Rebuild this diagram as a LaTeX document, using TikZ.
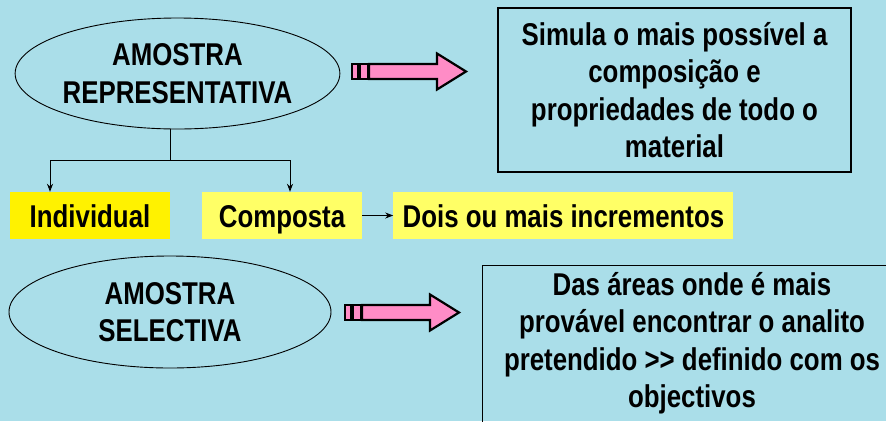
\documentclass[tikz,border=0pt]{standalone}
\usepackage{fontspec}
\setmainfont{Liberation Sans}[FakeStretch=0.82]
\usetikzlibrary{shapes.geometric, positioning, arrows.meta}
\definecolor{drops}{RGB}{170,222,233}
\definecolor{pinkarrow}{RGB}{255,140,198}
\definecolor{paleyellow}{RGB}{255,255,102}

\begin{document}
\begin{tikzpicture}[x=1pt,y=1pt,
    >={Stealth[length=8pt,width=6pt]},
    txt/.style={font=\fontsize{31.5}{37.5}\selectfont\bfseries, align=center, inner sep=0pt},
    oval/.style={txt, ellipse, draw, line width=0.9pt},
    infobox/.style={txt, draw, line width=1.2pt},
    tag/.style={txt, minimum height=47pt, text height=27pt, text depth=3pt}]
  \fill [drops] (0,0) rectangle (886,-421);
  \useasboundingbox (0,0) rectangle (886,-421);

  \node [oval, minimum width=319pt, minimum height=111pt] (repr) at (177.5,-73.5) {AMOSTRA\\REPRESENTATIVA};
  \node [oval, minimum width=322pt, minimum height=112pt] (selec) at (170,-312) {AMOSTRA\\SELECTIVA};

  \node [infobox, minimum width=353pt, minimum height=164pt] (simula) at (674.5,-90)
    {Simula o mais possível a\\composição e\\propriedades de todo o\\material};
  \node [infobox, minimum width=420pt, minimum height=175pt, anchor=north west] (areas) at (482,-265) {};
  \node [txt] (areasText) at (692,-343)
    {Das áreas onde é mais\\provável encontrar o analito\\pretendido >{}> definido com os\\objectivos};

  \node [tag, fill=yellow, minimum width=160pt] (indiv) at (90,-215.5) {Individual};
  \node [tag, fill=paleyellow, minimum width=160pt] (composta) at (282,-215.5) {Composta};
  \node [tag, fill=paleyellow, minimum width=340pt, right=31pt of composta] (dois) {Dois ou mais incrementos};

  \coordinate (fork) at (170,-160);
  \draw [line width=0.8pt] (repr.south -| fork) -- (fork);
  \foreach \dest/\dx in {indiv/-40, composta/8}{
    \draw [->, line width=0.8pt] (fork) -| ([xshift=\dx pt]\dest.north);
    };
  \draw [->, line width=0.8pt] (composta) -- (dois);

  \foreach \ax/\ay in {352/-71.5, 345/-312.5}{
    \begin{scope}[shift={(\ax,\ay)}, line width=2.2pt, fill=pinkarrow]
      \filldraw (0,-7.5) rectangle (6,7.5);
      \filldraw (8,-7.5) rectangle (16,7.5);
      \filldraw [line join=miter] (17,-7.5) -- (85,-7.5) -- (85,-18) -- (114,0)
        -- (85,18) -- (85,7.5) -- (17,7.5) -- cycle;
    \end{scope}
    };
\end{tikzpicture}
\end{document}
